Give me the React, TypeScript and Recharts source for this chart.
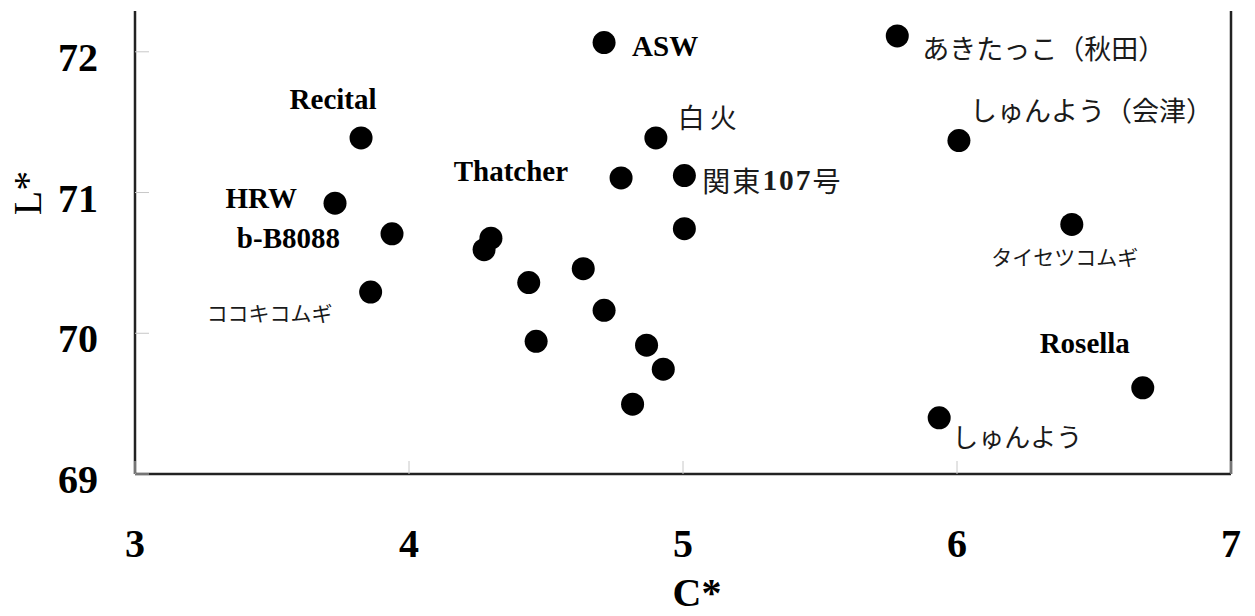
import React from 'react';
import { ScatterChart, Scatter, XAxis, YAxis, ReferenceLine } from 'recharts';

// Cultivar names ('' = unlabelled sample)
const cultivars = [
  'ASW', 'あきたっこ（秋田）', 'Recital', '白火', 'しゅんよう（会津）', 'Thatcher', '関東107号',
  'HRW', 'b-B8088', 'タイセツコムギ', 'ココキコムギ', 'Rosella', 'しゅんよう',
  '', '', '', '', '', '', '', '', '', '',
];
// Chroma C*
const cValues = [
  4.712, 5.782, 3.825, 4.901, 6.007, 4.774, 5.005,
  3.730, 3.938, 6.419, 3.860, 6.678, 5.935,
  5.005, 4.299, 4.274, 4.636, 4.437, 4.712, 4.464, 4.867, 4.928, 4.816,
];
// Lightness L*
const lValues = [
  72.066, 72.113, 71.388, 71.388, 71.369, 71.104, 71.121,
  70.924, 70.707, 70.773, 70.293, 69.612, 69.399,
  70.743, 70.676, 70.594, 70.459, 70.360, 70.163, 69.943, 69.915, 69.745, 69.496,
];
const xTicks = [3, 4, 5, 6, 7];
const yTicks = [69, 70, 71, 72];

const points = cultivars.map((name, i) => ({ name, c: cValues[i], l: lValues[i] }));

const SERIF = "'Liberation Serif', 'Times New Roman', serif";
const CJK = "'Noto Sans CJK JP', 'Noto Sans CJK SC', sans-serif";

type LabelStyle = {
  dx: number;
  dy: number;
  anchor: 'start' | 'middle' | 'end';
  cjk?: boolean;
  size?: number;
  spacing?: number;
};

// Placement of each cultivar name relative to its dot
const labelStyles: Record<string, LabelStyle> = {
  'ASW': { dx: 28, dy: 13, anchor: 'start' },
  'あきたっこ（秋田）': { dx: 25, dy: 11, anchor: 'start', cjk: true, size: 27 },
  'Recital': { dx: -28, dy: -29, anchor: 'middle' },
  '白火': { dx: 22, dy: -22, anchor: 'start', cjk: true, size: 27, spacing: 5 },
  'しゅんよう（会津）': { dx: 11, dy: -32, anchor: 'start', cjk: true, size: 27 },
  'Thatcher': { dx: -53, dy: 3, anchor: 'end' },
  '関東107号': { dx: 18, dy: 4, anchor: 'start', cjk: true, size: 28, spacing: 2 },
  'HRW': { dx: -38, dy: 5, anchor: 'end' },
  'b-B8088': { dx: -52, dy: 14, anchor: 'end' },
  'タイセツコムギ': { dx: -7, dy: 32, anchor: 'middle', cjk: true, size: 21 },
  'ココキコムギ': { dx: -38, dy: 20, anchor: 'end', cjk: true, size: 21 },
  'Rosella': { dx: -58, dy: -35, anchor: 'middle' },
  'しゅんよう': { dx: 13, dy: 17, anchor: 'start', cjk: true, size: 26 },
};

const renderRuns = (text: string, size: number) => {
  const runs = text.match(/[\x00-\x7F]+|[^\x00-\x7F]+/g) || [];
  return runs.map((run, i) => {
    const ascii = /^[\x00-\x7F]+$/.test(run);
    return (
      <tspan
        key={i}
        fontFamily={ascii ? SERIF : CJK}
        fontWeight={ascii ? 700 : 400}
        fontSize={ascii ? size * 1.05 : size}
      >
        {run}
      </tspan>
    );
  });
};

const Dot = (props: any) => {
  const { cx, cy, payload } = props;
  const st = labelStyles[payload.name];
  return (
    <g>
      <circle cx={cx} cy={cy} r={11.5} fill="#000" />
      {st && (
        st.cjk ? (
          <text
            x={cx + st.dx}
            y={cy + st.dy}
            textAnchor={st.anchor}
            dominantBaseline="central"
            fill="#1a1a1a"
            letterSpacing={st.spacing || 0}
          >
            {renderRuns(payload.name, st.size || 26)}
          </text>
        ) : (
          <text
            x={cx + st.dx}
            y={cy + st.dy}
            textAnchor={st.anchor}
            fontFamily={SERIF}
            fontWeight={700}
            fontSize={29}
            fill="#000"
          >
            {payload.name}
          </text>
        )
      )}
    </g>
  );
};

const YTick = (props: any) => {
  const { x, y, payload } = props;
  return (
    <g>
      <line x1={x} x2={x + 14} y1={y} y2={y} stroke="#c8c8c8" strokeWidth={1} />
      <text x={x - 37} y={y + 19} textAnchor="end" fontFamily={SERIF} fontWeight={700} fontSize={40} fill="#000">
        {payload.value}
      </text>
    </g>
  );
};

const XTick = (props: any) => {
  const { x, y, payload } = props;
  return (
    <g>
      <line x1={x} x2={x} y1={y} y2={y - 13} stroke="#c8c8c8" strokeWidth={1} />
      <text x={x} y={y + 83} textAnchor="middle" fontFamily={SERIF} fontWeight={700} fontSize={40} fill="#000">
        {payload.value}
      </text>
    </g>
  );
};

const xTitle = (props: any) => {
  const vb = props.viewBox;
  return (
    <text x={vb.x + vb.width / 2 + 14} y={vb.y + 132} textAnchor="middle" fontFamily={SERIF} fontWeight={700} fontSize={40} fill="#000">
      C*
    </text>
  );
};

const yTitle = (props: any) => {
  const vb = props.viewBox;
  const x = vb.x + 41;
  const y = vb.y + 182;
  return (
    <text x={x} y={y} transform={`rotate(-90, ${x}, ${y})`} textAnchor="middle" fontFamily={SERIF} fontWeight={400} fontSize={40} fill="#000">
      L*
    </text>
  );
};

export default function App() {
  return (
    <div style={{ position: 'absolute', left: 0, top: 0, width: 1255, height: 616, background: '#fff' }}>
      <ScatterChart width={1255} height={616} margin={{ top: 11, right: 24, bottom: 0, left: 0 }}>
        <XAxis
          type="number"
          dataKey="c"
          domain={[3, 7]}
          ticks={xTicks}
          height={142}
          tickLine={false}
          tickSize={0}
          tickMargin={0}
          tick={<XTick />}
          axisLine={{ stroke: '#222', strokeWidth: 2.5 }}
          label={xTitle}
          allowDataOverflow
        />
        <YAxis
          type="number"
          dataKey="l"
          domain={[69, 72.29]}
          ticks={yTicks}
          width={135}
          tickLine={false}
          tickSize={0}
          tickMargin={0}
          tick={<YTick />}
          axisLine={{ stroke: '#222', strokeWidth: 2.5 }}
          label={yTitle}
          allowDataOverflow
        />
        <ReferenceLine x={7} stroke="#222" strokeWidth={2.5} />
        <Scatter data={points} shape={<Dot />} isAnimationActive={false} />
      </ScatterChart>
    </div>
  );
}
